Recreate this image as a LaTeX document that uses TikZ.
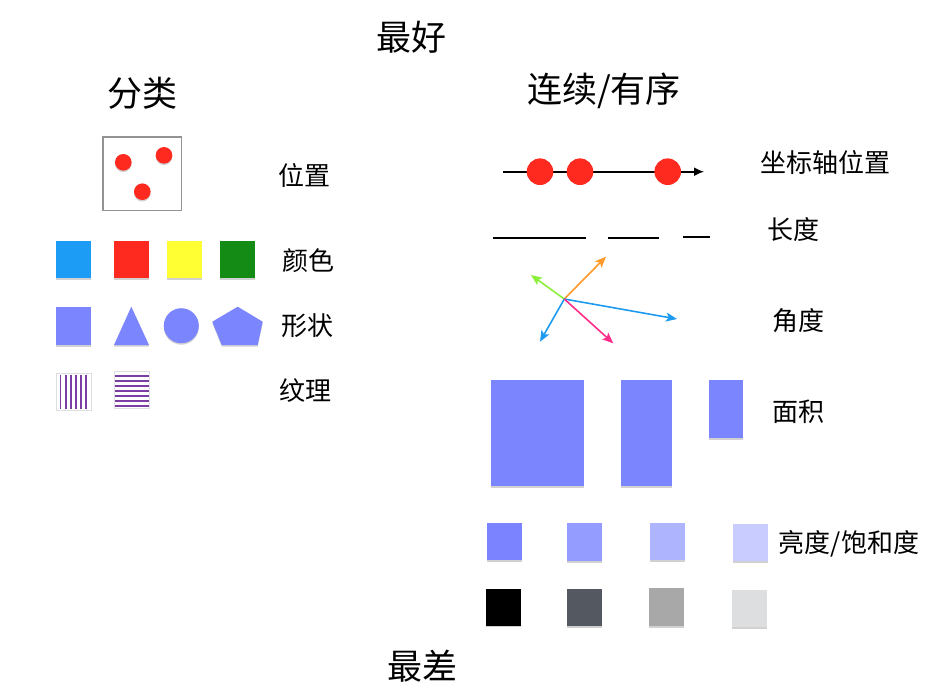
\documentclass[tikz,border=0pt]{standalone}
\usepackage{fontspec}
\newfontfamily\cjk{Noto Sans CJK SC}
\usetikzlibrary{arrows.meta,shadows}
\definecolor{shapeblue}{HTML}{7B85FD}
\definecolor{dotred}{HTML}{FE2A1F}
\definecolor{cblue}{HTML}{1C9CF4}
\definecolor{cred}{HTML}{FE2A1F}
\definecolor{cyellow}{HTML}{FFFF33}
\definecolor{cgreen}{HTML}{148B14}
\definecolor{stripe}{HTML}{7B3FA4}
\definecolor{aorange}{HTML}{FF9A2A}
\definecolor{agreen}{HTML}{8CF03A}
\definecolor{ablue}{HTML}{1E9BF0}
\definecolor{apink}{HTML}{FF2D8A}
\definecolor{bA}{HTML}{7B83FF}
\definecolor{bB}{HTML}{959CFF}
\definecolor{bC}{HTML}{AFB4FF}
\definecolor{bD}{HTML}{C9CCFF}
\definecolor{gB}{HTML}{545860}
\definecolor{gC}{HTML}{A7A8A7}
\definecolor{gD}{HTML}{DDDEE0}
\tikzset{
  title/.style={font=\cjk\fontsize{35}{38}\selectfont, inner sep=0pt},
  label/.style={font=\cjk\fontsize{26}{30}\selectfont, inner sep=0pt},
  sh/.style={drop shadow={shadow xshift=0pt, shadow yshift=-1.5pt, opacity=0.18, fill=black}},
  shp/.style={fill=shapeblue, sh},
  rdot/.style={fill=dotred},
  arr/.style={line width=1.6pt, -{Stealth[length=11pt,width=9pt,inset=2.5pt]}},
  lenline/.style={line width=1.8pt, black},
  stripeline/.style={line width=1.8pt, stripe},
}
\begin{document}
\begin{tikzpicture}[x=1pt,y=-1pt]
\useasboundingbox (0,0) rectangle (932,697);
% titles
\node[title] (best) at (411,37) {最好};
\node[title] (cat) at (142,93) {分类};
\node[title] (cont) at (604,91) {连续/有序};
\node[title] (worst) at (422,666) {最差};
% labels left
\node[label] (lpos) at (304,175) {位置};
\node[label] (lcol) at (308,261) {颜色};
\node[label] (lshape) at (307,326) {形状};
\node[label] (ltex) at (305,391) {纹理};
% labels right
\node[label] (laxis) at (825,163) {坐标轴位置};
\node[label] (llen) at (793,230) {长度};
\node[label] (lang) at (798,321) {角度};
\node[label] (larea) at (798,412) {面积};
\node[label] (lbri) at (849,544) {亮度/饱和度};
% position box
\draw[line width=1.8pt, gray!85] (103,137) rectangle (181.5,210.5);
\fill[rdot, sh] (123.3,162.3) circle (8.3);
\fill[rdot, sh] (164,155.3) circle (8.3);
\fill[rdot, sh] (142.3,191.7) circle (8.3);
% colours
\fill[cblue, sh] (56,241) rectangle (91,278);
\fill[cred, sh] (114,241) rectangle (149,278);
\fill[cyellow, sh] (167,241) rectangle (202,278);
\fill[cgreen, sh] (220,241) rectangle (255,278);
% shapes
\fill[shp] (56,307) rectangle (91,345);
\fill[shp] (114,345) -- (131.3,306.7) -- (149,345) -- cycle;
\fill[shp] (181.3,325.7) circle (17.5);
\fill[shp] (237.7,306.7) -- (262.7,321.7) -- (257.7,345) -- (221.7,345) -- (212.3,321.7) -- cycle;
% textures
\draw[line width=1pt, gray!25] (56,373.5) rectangle (91,410);
\foreach \i in {0,...,5} {\draw[stripeline] (60.5+5.1*\i,374.5) -- (60.5+5.1*\i,409);}
\draw[line width=1pt, gray!25] (114,371) rectangle (149.3,408.5);
\foreach \i in {0,...,6} {\draw[stripeline] (114.5,375.7+5.05*\i) -- (148.8,375.7+5.05*\i);}
% axis
\coordinate (ax0) at (503,171.7);
\coordinate (ax1) at (704,171.7);
\draw[line width=1.6pt, -{Latex[length=10pt,width=9pt]}] (ax0) -- (ax1);
\fill[rdot] (540,171.7) circle (13.3);
\fill[rdot] (580,171.7) circle (13.3);
\fill[rdot] (667.7,171.7) circle (13.3);
% lengths
\draw[lenline] (493.3,238.3) -- (586,238.3);
\draw[lenline] (608.3,237.7) -- (658.7,237.7);
\draw[lenline] (683.3,236.7) -- (710,236.7);
% angles
\coordinate (o) at (564.3,299);
\coordinate (eor) at (606,256.7);
\coordinate (egr) at (531,275);
\coordinate (ebr) at (677,319);
\coordinate (ebd) at (540,341.7);
\coordinate (epk) at (613.3,343.3);
\draw[arr, aorange] (o) -- (eor);
\draw[arr, agreen] (o) -- (egr);
\draw[arr, ablue] (o) -- (ebr);
\draw[arr, ablue] (o) -- (ebd);
\draw[arr, apink] (o) -- (epk);
% areas
\fill[shp] (491,380) rectangle (584,486);
\fill[shp] (621,380) rectangle (672,486);
\fill[shp] (708.7,380) rectangle (743.3,438.3);
% brightness
\fill[bA, sh] (487.3,522.7) rectangle (522.3,560);
\fill[bB, sh] (566.7,523.3) rectangle (602.3,561);
\fill[bC, sh] (650,523) rectangle (685,560);
\fill[bD, sh] (732.7,524) rectangle (767.7,561);
% grays
\fill[black, sh] (486,588.7) rectangle (521,625.7);
\fill[gB, sh] (566.7,589) rectangle (602,626);
\fill[gC, sh] (649,588) rectangle (684,626);
\fill[gD, sh] (732.3,590) rectangle (767,627);
\end{tikzpicture}
\end{document}
